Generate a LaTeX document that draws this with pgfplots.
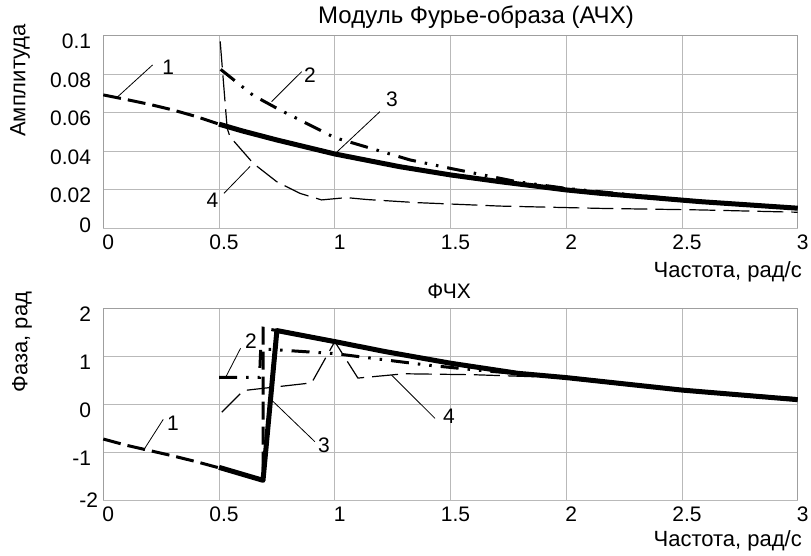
\documentclass[border=0pt]{standalone}
\usepackage{fontspec}
\setmainfont{Liberation Sans}
\usepackage{pgfplots}
\pgfplotsset{compat=1.18}
\pgfplotsset{
  myaxis/.style={
    scale only axis, width=694.4pt,
    xmin=0, xmax=3, xtick={0,0.5,1,1.5,2,2.5,3},
    xticklabels={0,0.5,1,1.5,2,2.5,3},
    grid=major, grid style={draw=gray!55, line width=0.9pt},
    axis line style={draw=gray!75, line width=1pt},
    major tick length=0pt,
    xticklabel style={xshift=5pt},
    yticklabel style={xshift=-5pt, yshift=-6pt},
    clip=false,
  },
  c1/.style={black, line width=3pt, dash pattern=on 18pt off 7pt},
  c2/.style={black, line width=3pt, dash pattern=on 18pt off 9pt on 2.5pt off 9pt on 2.5pt off 9pt},
  c3/.style={black, line width=5pt, line join=round},
  c4/.style={black, line width=1.2pt, dash pattern=on 26pt off 8pt},
}
\tikzset{lead/.style={black, line width=0.8pt}}
\begin{document}
\fontsize{21}{25}\selectfont
\begin{tikzpicture}
\useasboundingbox (0pt,0pt) rectangle (811pt,-556pt);
% ---------- top axis ----------
\begin{axis}[myaxis, at={(103.3pt,-228pt)}, anchor=south west, height=192.3pt,
  ymin=0, ymax=0.1, ytick={0.02,0.04,0.06,0.08,0.1},
  yticklabels={0.02,0.04,0.06,0.08,0.1},
  extra y ticks={0}, extra y tick labels={0},
  extra y tick style={yticklabel style={yshift=9pt}}]
\addplot[c1] coordinates {(0,0.0692) (0.1,0.0668) (0.2,0.0643) (0.3,0.0614) (0.4,0.058) (0.5,0.054)};
\addplot[c3] coordinates {(0.5,0.054) (0.6,0.0505) (0.749,0.0458) (1.0,0.0385) (1.28,0.0319) (1.5,0.0276) (1.713,0.0241) (2.0,0.0198) (2.15,0.018) (2.58,0.0137) (3,0.0103)};
\addplot[c2] coordinates {(0.507,0.0825) (0.647,0.069) (0.763,0.0614) (1.0,0.047) (1.325,0.0354) (1.5,0.031) (1.786,0.0241) (2,0.0206) (2.218,0.018) (2.58,0.0139) (3,0.0104)};
\addplot[c4] coordinates {(0.505,0.097) (0.535,0.052) (0.547,0.0475) (0.648,0.0336) (0.749,0.0241) (0.85,0.018) (0.943,0.0146) (1.05,0.0158) (1.14,0.0148) (1.354,0.0132) (1.713,0.0114) (2.15,0.0102) (2.58,0.0094) (3,0.0082)};
\draw[lead] (axis cs:0.213,0.0848) -- (axis cs:0.06,0.068);
\node at (axis cs:0.28,0.0835) {1};
\draw[lead] (axis cs:0.857,0.0813) -- (axis cs:0.727,0.0657);
\node at (axis cs:0.893,0.0796) {2};
\draw[lead] (axis cs:1.195,0.0605) -- (axis cs:1.0,0.0385);
\node at (axis cs:1.247,0.0671) {3};
\draw[lead] (axis cs:0.521,0.018) -- (axis cs:0.634,0.032);
\node at (axis cs:0.472,0.0146) {4};
\end{axis}
% ---------- bottom axis ----------
\begin{axis}[myaxis, at={(103.3pt,-500pt)}, anchor=south west, height=192pt,
  ymin=-2, ymax=2, ytick={-1,0,1,2},
  yticklabels={-1,0,1,2},
  extra y ticks={-2}, extra y tick labels={-2},
  extra y tick style={yticklabel style={yshift=6pt, xshift=7pt}}]
\addplot[c1] coordinates {(0,-0.73) (0.1,-0.86) (0.2,-0.97) (0.3,-1.08) (0.4,-1.2) (0.5,-1.33) (0.69,-1.58) (0.69,1.58) (0.75,1.53) (1.0,1.30)};
\addplot[c3] coordinates {(0.5,-1.32) (0.69,-1.59) (0.75,1.53) (1.0,1.30) (1.22,1.09) (1.5,0.85) (1.79,0.64) (2,0.55) (2.5,0.29) (3,0.09)};
\addplot[c2] coordinates {(0.5,0.555) (0.675,0.555) (0.68,1.15) (1.0,1.05) (1.2,0.93) (1.4,0.81) (1.65,0.69) (2,0.55) (2.5,0.29) (3,0.1)};
\addplot[c4] coordinates {(0.512,-0.17) (0.605,0.28) (0.9,0.44) (1.0,1.30) (1.1,0.54) (1.3,0.63) (1.6,0.61) (1.85,0.57) (2,0.55) (2.5,0.30) (3,0.13)};
\draw[lead] (axis cs:0.259,-0.32) -- (axis cs:0.173,-0.97);
\node at (axis cs:0.301,-0.406) {1};
\draw[lead] (axis cs:0.593,1.16) -- (axis cs:0.53,0.57);
\node at (axis cs:0.638,1.30) {2};
\draw[lead] (axis cs:0.914,-0.785) -- (axis cs:0.727,0.083);
\node at (axis cs:0.953,-0.854) {3};
\draw[lead] (axis cs:1.433,-0.30) -- (axis cs:1.246,0.60);
\node at (axis cs:1.493,-0.25) {4};
\end{axis}
% ---------- texts ----------
\node[font=\fontsize{24}{28}\selectfont] at (476pt,-17pt) {Модуль Фурье-образа (АЧХ)};
\node at (449pt,-291pt) {ФЧХ};
\node[anchor=east, font=\fontsize{22}{26}\selectfont] at (809pt,-272pt) {Частота, рад/с};
\node[anchor=east, font=\fontsize{22}{26}\selectfont] at (809pt,-541pt) {Частота, рад/с};
\node[rotate=90, font=\fontsize{22}{26}\selectfont] at (20pt,-80.5pt) {Амплитуда};
\node[rotate=90, font=\fontsize{22}{26}\selectfont] at (22pt,-342pt) {Фаза, рад};
\end{tikzpicture}
\end{document}
